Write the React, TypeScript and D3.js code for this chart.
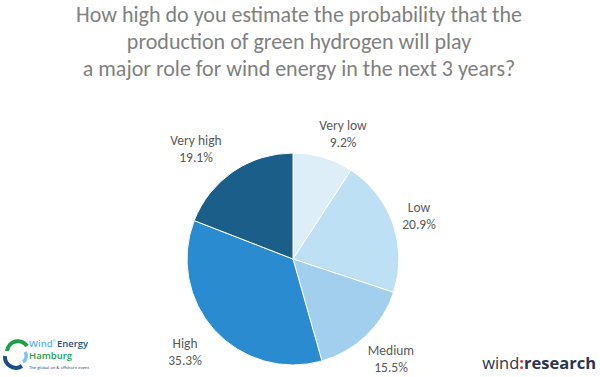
import React from "react";
import * as d3 from "d3";

const categories = ["Very low", "Low", "Medium", "High", "Very high"];
const values = [9.2, 20.9, 15.5, 35.3, 19.1];
const colors = ["#DDEEF9", "#BEE0F4", "#A3CFEE", "#2B8BD0", "#1B5E8A"];
const titleLines = [
  "How high do you estimate the probability that the",
  "production of green hydrogen will play",
  "a major role for wind energy in the next 3 years?",
];
const labelPos: [number, number][] = [
  [343, 130],
  [419, 212],
  [391, 355],
  [185, 348],
  [196, 145],
];

export default function App() {
  const W = 600, H = 377;
  const cx = 293, cy = 259, r = 106;
  const pie = d3.pie<number>().sort(null).value((d) => d);
  const arcs = pie(values);
  const arc = d3.arc<d3.PieArcDatum<number>>().innerRadius(0).outerRadius(r);
  const font = "Carlito, 'Open Sans', 'Liberation Sans', sans-serif";
  const logoFont = "'Open Sans', sans-serif";
  return (
    <svg width={W} height={H} style={{ position: "absolute", left: 0, top: 0 }}>
      <rect width={W} height={H} fill="#fff" />
      {titleLines.map((t, i) => (
        <text key={i} x={299} y={22 + i * 27} textAnchor="middle" fontSize={22} fill="#808080" fontFamily={font}>
          {t}
        </text>
      ))}
      <g transform={`translate(${cx},${cy})`}>
        {arcs.map((a, i) => (
          <path key={i} d={arc(a) || ""} fill={colors[i]} stroke="#fff" strokeWidth={1} />
        ))}
      </g>
      {categories.map((c, i) => (
        <g key={c} fontFamily={font} fontSize={13.5} fill="#595959" textAnchor="middle">
          <text x={labelPos[i][0]} y={labelPos[i][1]}>{c}</text>
          <text x={labelPos[i][0]} y={labelPos[i][1] + 17}>{values[i].toFixed(1)}%</text>
        </g>
      ))}
      {/* Wind Energy Hamburg logo */}
      <g>
        <path d="M 7 351 A 11 11 0 0 1 27 346" fill="none" stroke="#1E9E48" strokeWidth={4} />
        <path d="M 5 356 A 11 11 0 0 0 22 366" fill="none" stroke="#1B4F8A" strokeWidth={4} />
        <path d="M 23 362 A 7 7 0 0 0 25 352" fill="none" stroke="#7CC4EA" strokeWidth={3.5} />
        <text x={29} y={347} fontFamily={logoFont} fontSize={9.5} fontWeight={600}>
          <tspan fill="#5BB4E5">Wind</tspan>
          <tspan fill="#5BB4E5" fontSize={4} dy={-5}>®</tspan>
          <tspan fill="#1B4F8A" dy={5} dx={1}>Energy</tspan>
        </text>
        <text x={29} y={359} fontFamily={logoFont} fontSize={9.5} fontWeight={600} fill="#1E9E48">Hamburg</text>
        <text x={29} y={369} fontFamily={logoFont} fontSize={4.2} fill="#1B3A6A">The global on &amp; offshore event</text>
      </g>
      {/* wind:research logo */}
      <text x={596} y={369} textAnchor="end" fontFamily={logoFont} fontSize={16.5} fill="#2A3550">
        <tspan fontWeight={400}>wind</tspan>
        <tspan fill="#E03030" fontWeight={700}>:</tspan>
        <tspan fontWeight={700}>research</tspan>
      </text>
    </svg>
  );
}
